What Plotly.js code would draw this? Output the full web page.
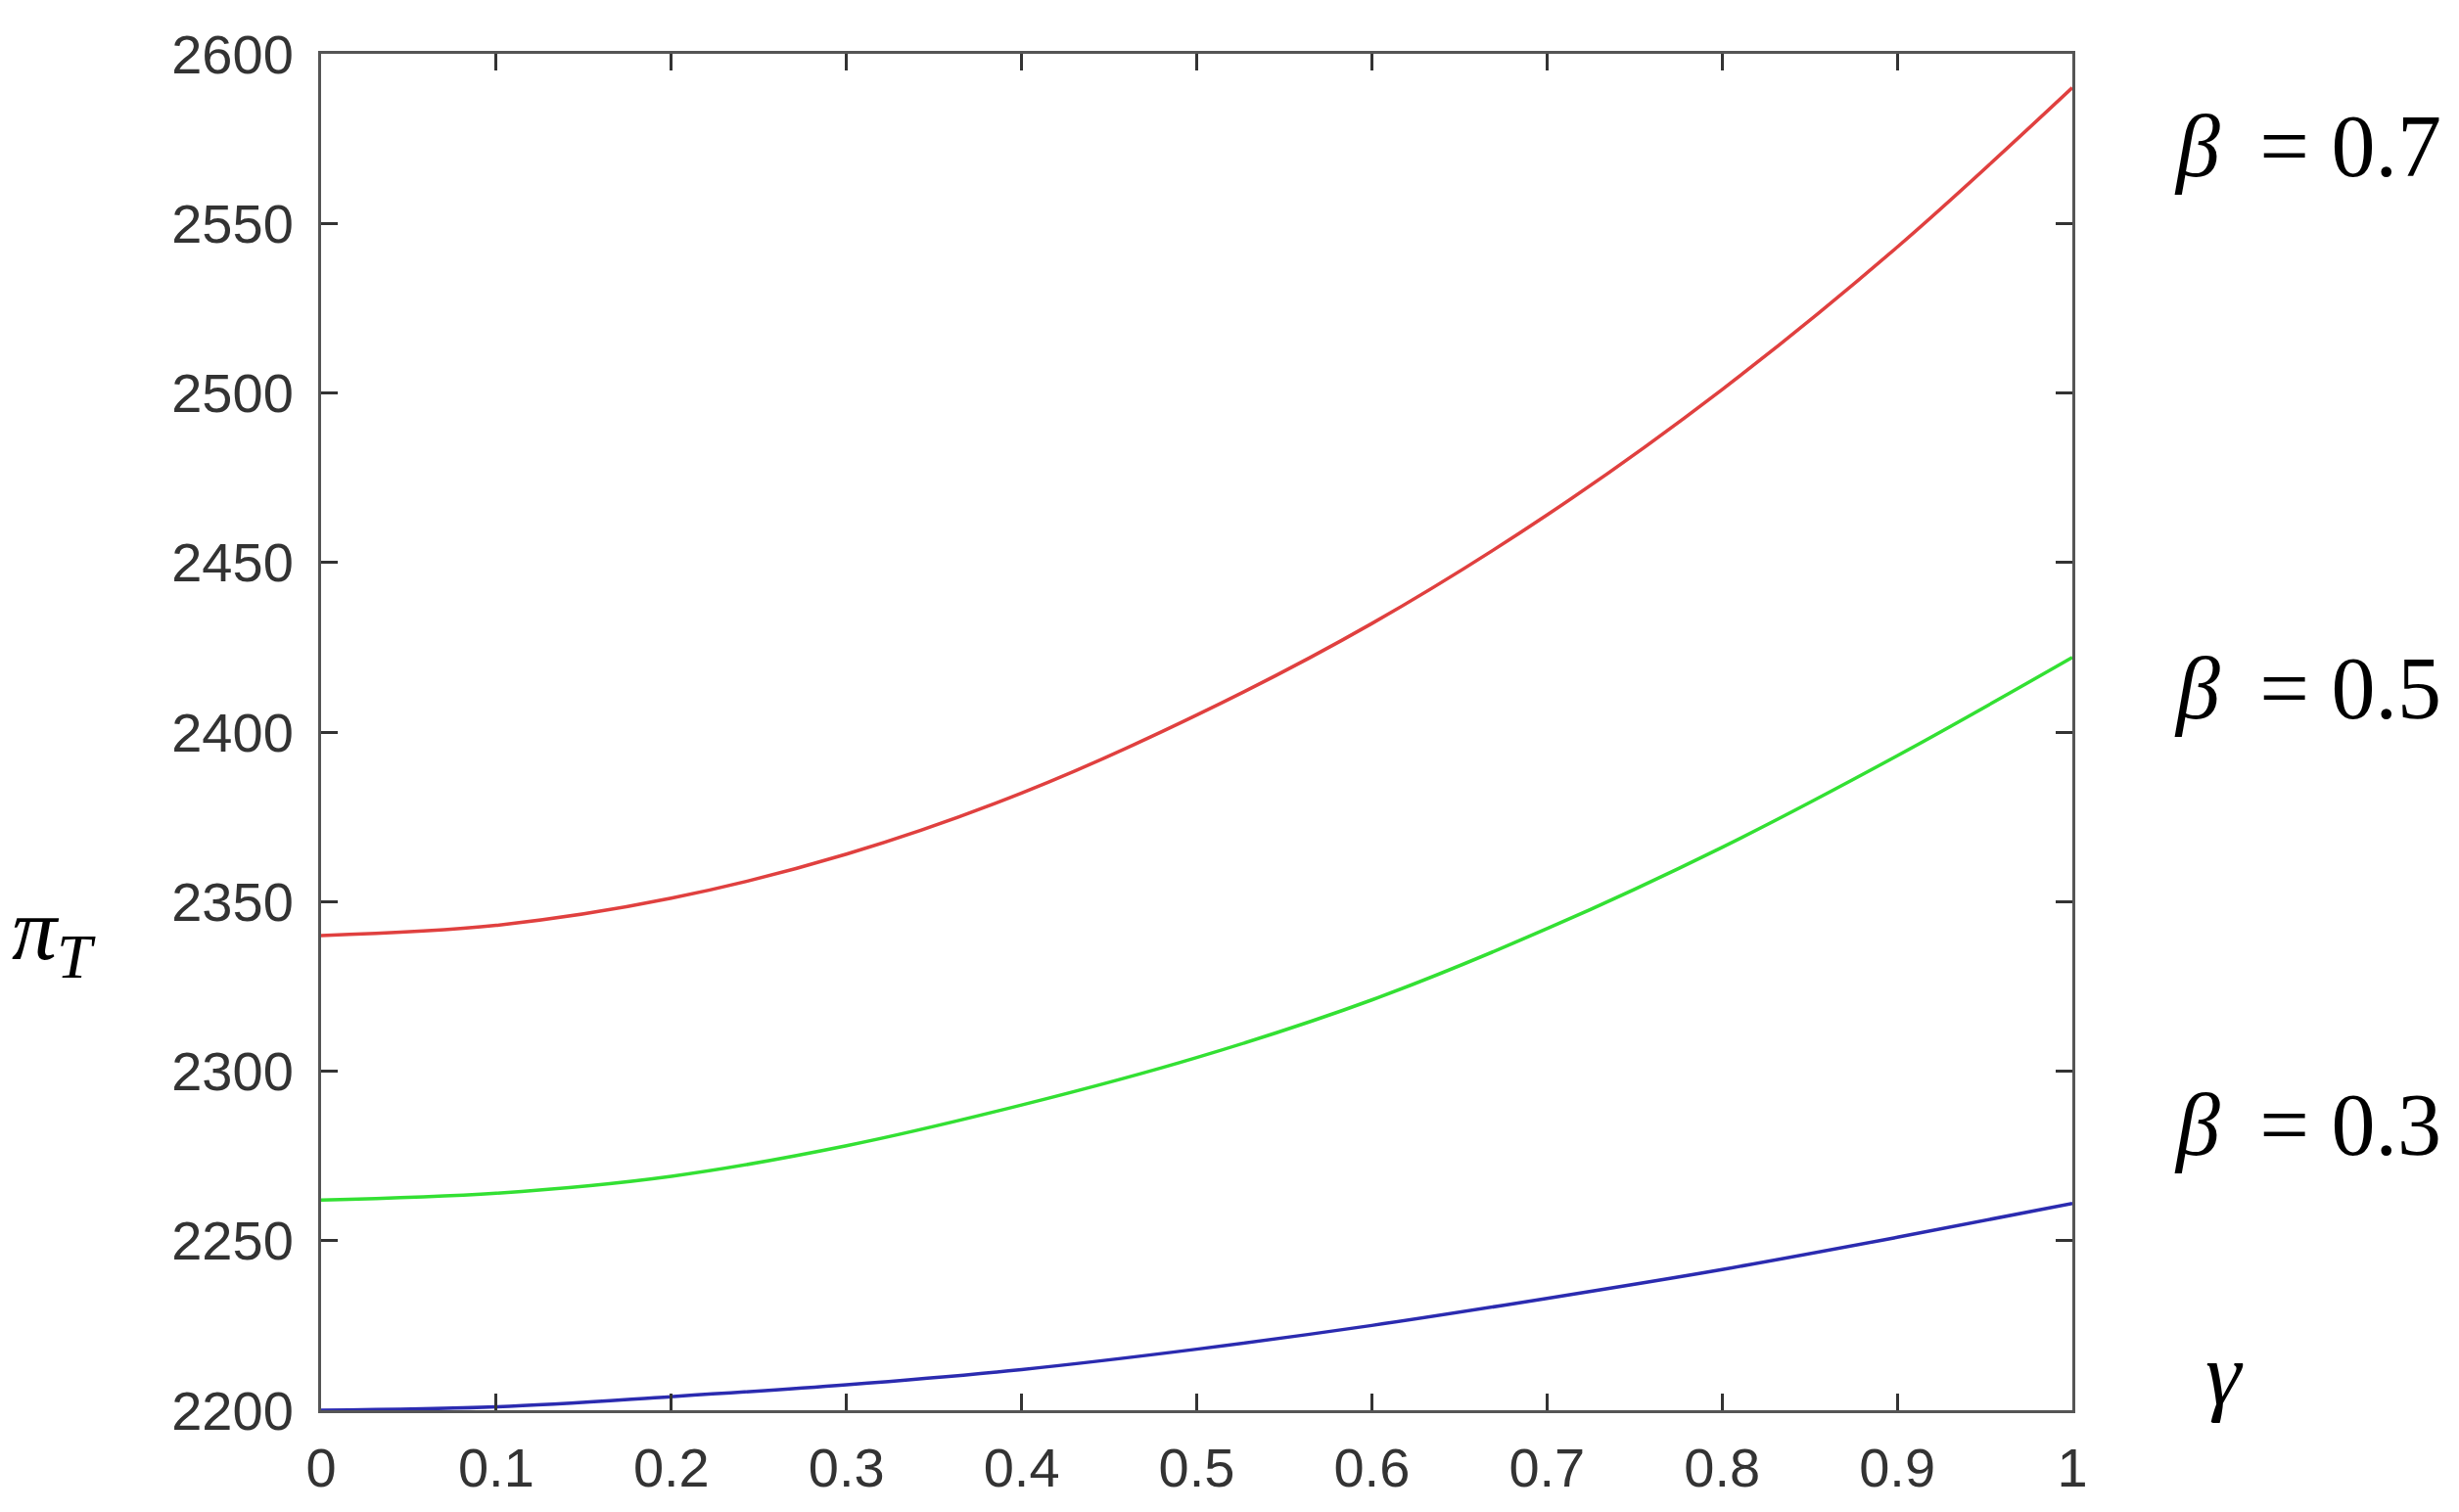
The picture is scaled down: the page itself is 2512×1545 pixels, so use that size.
<!DOCTYPE html>
<html>
<head>
<meta charset="utf-8">
<script src="https://cdn.plot.ly/plotly-3.0.1.min.js"></script>
<style>html,body{margin:0;padding:0;background:#fff;}#chart{width:2512px;height:1545px;}</style>
</head>
<body>
<div id="chart"></div>
<script>
// gamma values (x axis)
const gamma = [0, 0.1, 0.2, 0.3, 0.4, 0.5, 0.6, 0.7, 0.8, 0.9, 1.0];
// pi_T for beta = 0.7 (red)
const piBeta07 = [2340, 2343, 2351, 2364, 2382, 2405, 2432, 2464, 2501, 2543, 2590];
// pi_T for beta = 0.5 (green)
const piBeta05 = [2262, 2264, 2269, 2278, 2290, 2304, 2321, 2342, 2366, 2393, 2422];
// pi_T for beta = 0.3 (blue)
const piBeta03 = [2200, 2201, 2204, 2207.5, 2212, 2218, 2225, 2233, 2241.5, 2251, 2261];

const xTickVals = [0, 0.1, 0.2, 0.3, 0.4, 0.5, 0.6, 0.7, 0.8, 0.9, 1];
const xTickText = ['0', '0.1', '0.2', '0.3', '0.4', '0.5', '0.6', '0.7', '0.8', '0.9', '1'];
const yTickVals = [2200, 2250, 2300, 2350, 2400, 2450, 2500, 2550, 2600];
const yTickText = ['2200', '2250', '2300', '2350', '2400', '2450', '2500', '2550', '2600'];
const seriesLabels = ['<i>β</i>\u2005\u2009=\u20050.7', '<i>β</i>\u2005\u2009=\u20050.5', '<i>β</i>\u2005\u2009=\u20050.3'];

const mk = (y, color) => ({
  x: gamma, y: y, type: 'scatter', mode: 'lines',
  line: {color: color, width: 3.5, shape: 'spline', smoothing: 1},
  showlegend: false, hoverinfo: 'skip'
});

const data = [
  mk(piBeta07, '#e0403f'),
  mk(piBeta05, '#33e033'),
  mk(piBeta03, '#2b2bb0')
];

const tickFont = {family: '"Liberation Sans", Arial, sans-serif', size: 56, color: '#333333'};
const serif = '"Liberation Serif", "Times New Roman", serif';

const axisCommon = {
  showline: true, mirror: 'ticks', linecolor: '#555555', linewidth: 3,
  ticks: 'inside', ticklen: 17, tickwidth: 3, tickcolor: '#333333',
  showgrid: false, zeroline: false, tickfont: tickFont, tickmode: 'array'
};

const layout = {
  width: 2512, height: 1545,
  margin: {l: 328, r: 395, t: 55, b: 104},
  paper_bgcolor: '#ffffff', plot_bgcolor: '#ffffff',
  xaxis: Object.assign({}, axisCommon, {range: [0, 1], tickvals: xTickVals, ticktext: xTickText, ticklabelstandoff: 8}),
  yaxis: Object.assign({}, axisCommon, {range: [2200, 2600], tickvals: yTickVals, ticktext: yTickText, ticklabelstandoff: 14}),
  annotations: [
    {text: seriesLabels[0], xref: 'paper', yref: 'paper', x: 1.057, y: 0.932, xanchor: 'left', yanchor: 'middle', showarrow: false, font: {family: serif, size: 90, color: '#000'}},
    {text: seriesLabels[1], xref: 'paper', yref: 'paper', x: 1.057, y: 0.532, xanchor: 'left', yanchor: 'middle', showarrow: false, font: {family: serif, size: 90, color: '#000'}},
    {text: seriesLabels[2], xref: 'paper', yref: 'paper', x: 1.057, y: 0.21, xanchor: 'left', yanchor: 'middle', showarrow: false, font: {family: serif, size: 90, color: '#000'}},
    {text: '<i>γ</i>', xref: 'paper', yref: 'paper', x: 1.087, y: 0.027, xanchor: 'center', yanchor: 'middle', showarrow: false, font: {family: serif, size: 92, color: '#000'}},
    {text: '<i>π</i><sub><i>T</i></sub>', xref: 'paper', yref: 'paper', x: -0.178, y: 0.35, xanchor: 'left', yanchor: 'middle', showarrow: false, font: {family: serif, size: 92, color: '#000'}}
  ]
};

Plotly.newPlot('chart', data, layout, {staticPlot: true, displayModeBar: false});
</script>
</body>
</html>
